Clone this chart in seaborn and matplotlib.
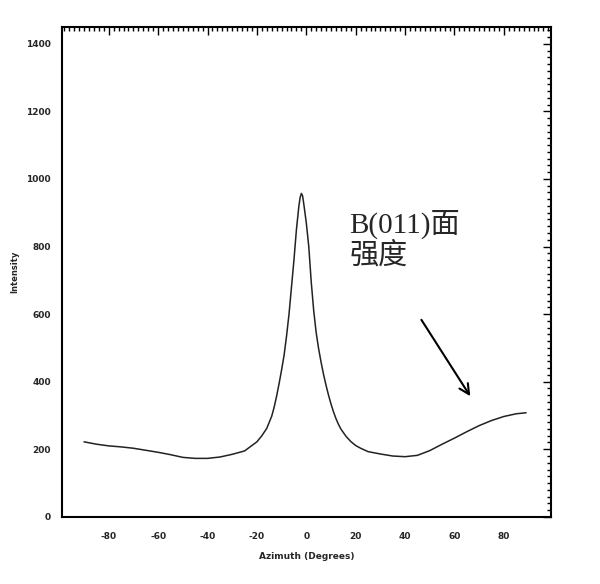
import numpy as np
import pandas as pd
import matplotlib
matplotlib.use("Agg")
import matplotlib.pyplot as plt
from matplotlib.ticker import MultipleLocator
import seaborn as sns

# azimuth profile
azimuth = [-90, -85, -80, -75, -70, -65, -60, -55, -50, -45, -40, -35, -30, -25,
           -20, -18, -16, -14, -13, -12, -11, -10, -9, -8, -7, -6, -5, -4, -3,
           -2.5, -2, -1.5, -1, 0, 1, 2, 3, 4, 5, 6, 7, 8, 9, 10, 11, 12, 13, 14,
           16, 18, 20, 22, 25, 30, 35, 40, 45, 50, 55, 60, 65, 70, 75, 80, 85, 89]
intensity = [222, 215, 210, 207, 203, 197, 191, 184, 176, 173, 173, 177, 185, 195,
             222, 240, 262, 298, 325, 358, 395, 435, 478, 535, 600, 680, 760, 850,
             920, 945, 957, 950, 925, 870, 800, 695, 610, 545, 497, 457, 421, 389,
             360, 334, 311, 291, 274, 260, 239, 223, 211, 203, 193, 186, 180, 178,
             182, 196, 215, 233, 252, 270, 285, 297, 305, 308]

x_ticks = [-80, -60, -40, -20, 0, 20, 40, 60, 80]
y_ticks = [0, 200, 400, 600, 800, 1000, 1200, 1400]

note_text = "B(011)面\n强度"

df = pd.DataFrame({"Azimuth": azimuth, "Intensity": intensity})

sns.set_style("white")
plt.rcParams['font.family'] = ['DejaVu Sans']
plt.rcParams['axes.unicode_minus'] = False

fig = plt.figure(figsize=(6.0, 5.84), dpi=100)
ax = fig.add_axes([0.103, 0.115, 0.815, 0.839])

sns.lineplot(data=df, x="Azimuth", y="Intensity", ax=ax, color="#222222",
             lw=1.1, estimator=None)

ax.set_xlim(-99, 99)
ax.set_ylim(0, 1450)
ax.set_xticks(x_ticks)
ax.set_yticks(y_ticks)
ax.xaxis.set_minor_locator(MultipleLocator(2))
ax.yaxis.set_minor_locator(MultipleLocator(20))

ax.tick_params(which="both", direction="in", top=True, right=True,
               color="black", width=1.0)
ax.tick_params(which="major", length=6)
ax.tick_params(which="minor", length=3)
ax.tick_params(axis="x", which="major", pad=11, labelsize=6.5)
ax.tick_params(axis="y", which="major", pad=8, labelsize=6.5)
for lbl in ax.get_xticklabels() + ax.get_yticklabels():
    lbl.set_fontweight("bold")

for sp in ax.spines.values():
    sp.set_color("black")
    sp.set_linewidth(1.5)

ax.set_xlabel("Azimuth (Degrees)", fontsize=6.5, fontweight="bold", labelpad=8)
ax.set_ylabel("Intensity", fontsize=6, fontweight="bold", labelpad=5)

ax.text(17.5, 910, note_text, fontsize=21, va="top", ha="left",
        family=["Liberation Serif", "Noto Sans CJK SC"], linespacing=1.15)
ax.annotate("", xy=(67, 350), xytext=(46, 590),
            arrowprops=dict(arrowstyle="->", color="black", lw=1.5,
                            mutation_scale=18))

fig.savefig("out.png", dpi=100)
